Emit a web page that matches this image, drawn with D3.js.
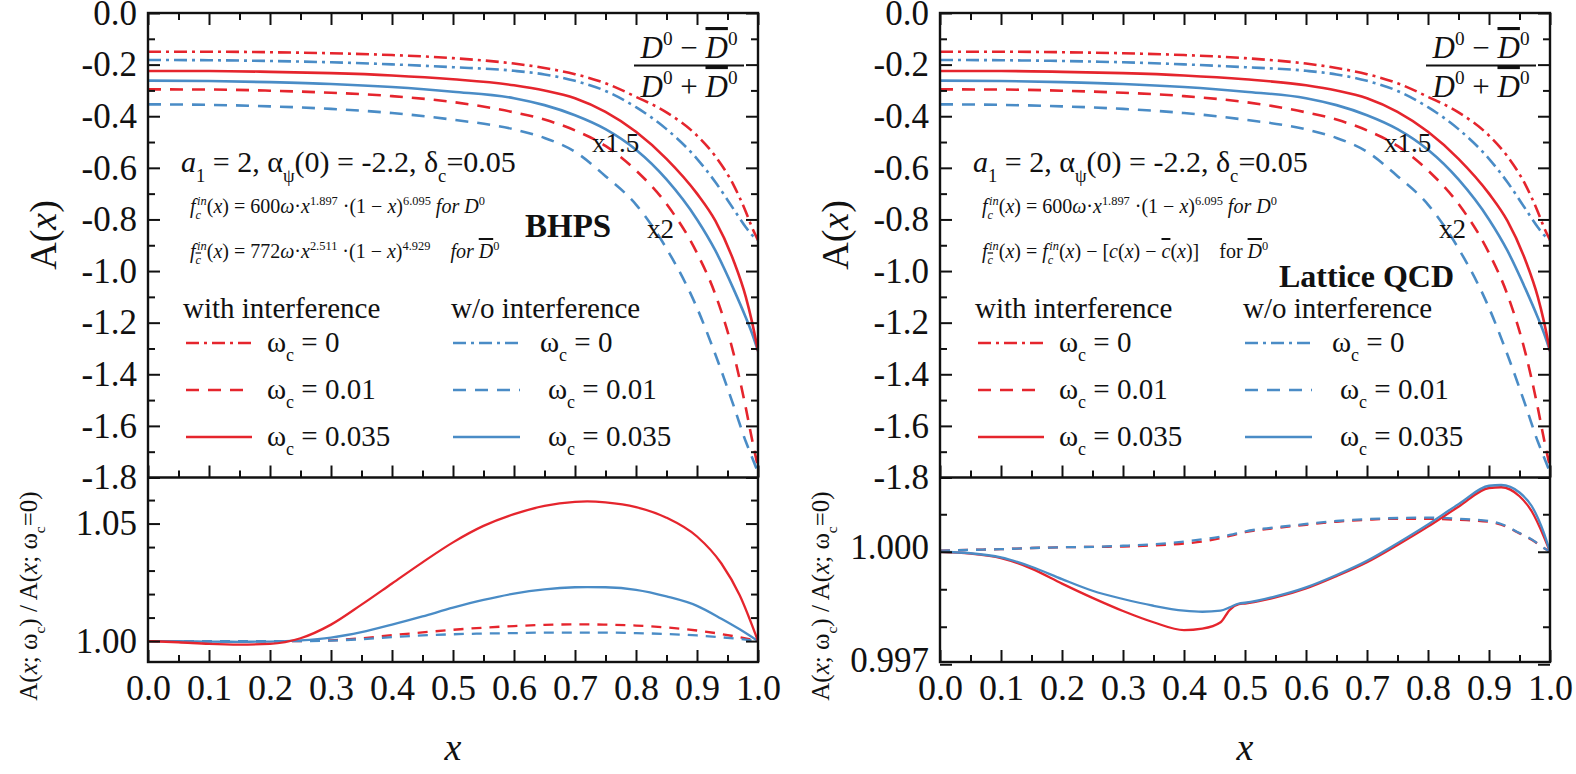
<!DOCTYPE html>
<html><head><meta charset="utf-8">
<script src="https://cdn.jsdelivr.net/npm/d3@7"></script>
<style>
body{margin:0;background:#fff}
svg{display:block}
text{font-family:"Liberation Serif","Times New Roman",serif;fill:#111;white-space:pre}
</style></head>
<body><svg id="c" width="1576" height="774"></svg>
<script>
// ---------- data ----------
const xGrid = [0,0.1,0.2,0.3,0.4,0.5,0.6,0.65,0.7,0.75,0.8,0.85,0.9,0.93,0.96,0.98,0.99,1.0];
const redOmega0   = [-0.150,-0.150,-0.152,-0.156,-0.163,-0.175,-0.196,-0.213,-0.237,-0.272,-0.325,-0.385,-0.475,-0.555,-0.667,-0.770,-0.830,-0.880];
const blueOmega0  = [-0.182,-0.183,-0.186,-0.191,-0.199,-0.210,-0.224,-0.238,-0.263,-0.302,-0.365,-0.450,-0.565,-0.655,-0.760,-0.830,-0.860,-0.880];
const redOmega035 = [-0.225,-0.225,-0.228,-0.233,-0.242,-0.257,-0.280,-0.300,-0.330,-0.383,-0.460,-0.565,-0.700,-0.805,-0.960,-1.100,-1.195,-1.310];
const blueOmega035= [-0.262,-0.2635,-0.268,-0.275,-0.287,-0.305,-0.330,-0.357,-0.396,-0.450,-0.530,-0.645,-0.800,-0.920,-1.070,-1.180,-1.240,-1.310];
const redOmega001 = [-0.296,-0.2965,-0.301,-0.309,-0.322,-0.345,-0.385,-0.413,-0.455,-0.515,-0.610,-0.740,-0.930,-1.090,-1.320,-1.530,-1.650,-1.760];
const blueOmega001= [-0.354,-0.356,-0.3618,-0.3716,-0.3877,-0.4135,-0.4508,-0.4841,-0.5378,-0.6323,-0.7425,-0.9127,-1.1427,-1.3224,-1.5215,-1.6608,-1.7203,-1.780];

// BHPS ratio panel
const bhpsX = [0,0.05,0.1,0.15,0.2,0.25,0.3,0.35,0.4,0.45,0.5,0.55,0.6,0.65,0.7,0.72,0.75,0.8,0.85,0.9,0.94,0.97,1.0];
const bhpsRed035  = [1.0,0.9995,0.9988,0.9985,0.9988,1.0012,1.007,1.0155,1.0245,1.0335,1.042,1.049,1.054,1.0575,1.0592,1.0594,1.059,1.057,1.0525,1.0445,1.033,1.0195,1.0];
const bhpsBlue035 = [1.0,1.0,0.9998,0.9997,0.9998,1.0003,1.0015,1.0038,1.007,1.0105,1.0142,1.0175,1.0202,1.022,1.0229,1.023,1.0229,1.0218,1.019,1.015,1.0095,1.005,1.0];
const bhpsRed001  = [1.0,1.0,0.9999,0.9999,0.9999,1.0,1.0003,1.0012,1.0025,1.0037,1.0048,1.0057,1.0064,1.0069,1.0071,1.0071,1.007,1.0066,1.0058,1.0045,1.003,1.0016,1.0];
const bhpsBlue001 = [1.0,1.0,1.0,1.0,1.0,1.0,1.0002,1.0008,1.0017,1.0024,1.0029,1.0032,1.0034,1.0036,1.0036,1.0036,1.0036,1.0034,1.003,1.0024,1.0016,1.0009,1.0];

// Lattice QCD ratio panel
const latX = [0,0.05,0.1,0.15,0.2,0.25,0.3,0.35,0.4,0.43,0.46,0.475,0.49,0.5,0.55,0.6,0.65,0.7,0.75,0.8,0.85,0.9,0.92,0.95,0.97,0.99,1.0];
const latRed035  = [1.0,0.99995,0.99983,0.99955,0.99915,0.99877,0.99842,0.99812,0.99791,0.99795,0.99812,0.99845,0.9986,0.99862,0.99878,0.99902,0.99935,0.99972,1.00018,1.00067,1.0012,1.0017,1.00172,1.00148,1.00108,1.0004,1.0];
const latBlue035 = [1.0,0.99996,0.99985,0.9996,0.99927,0.99896,0.99874,0.99856,0.99843,0.9984,0.99843,0.99852,0.99862,0.99864,0.99881,0.99905,0.99938,0.99976,1.00023,1.00073,1.00127,1.00176,1.00178,1.00158,1.00122,1.0005,1.0];
const latRed001  = [1.00003,1.00005,1.00007,1.0001,1.00012,1.00013,1.00014,1.00017,1.00022,1.00027,1.00036,1.00042,1.00048,1.00052,1.00063,1.00072,1.0008,1.00085,1.00088,1.00088,1.00085,1.0008,1.00072,1.00049,1.00032,1.0001,1.0];
const latBlue001 = [1.00003,1.00005,1.00007,1.0001,1.00012,1.00013,1.00016,1.0002,1.00027,1.00033,1.0004,1.00045,1.0005,1.00054,1.00065,1.00074,1.00082,1.00087,1.0009,1.00091,1.00088,1.00082,1.00074,1.0005,1.00033,1.0001,1.0];

const xMajor = [0,0.1,0.2,0.3,0.4,0.5,0.6,0.7,0.8,0.9,1.0];
const xMinor = [0.05,0.15,0.25,0.35,0.45,0.55,0.65,0.75,0.85,0.95];
const xTickLabels = ["0.0","0.1","0.2","0.3","0.4","0.5","0.6","0.7","0.8","0.9","1.0"];
const topMajor = [0,-0.2,-0.4,-0.6,-0.8,-1.0,-1.2,-1.4,-1.6,-1.8];
const topMinor = [-0.1,-0.3,-0.5,-0.7,-0.9,-1.1,-1.3,-1.5,-1.7];
const topTickLabels = ["0.0","-0.2","-0.4","-0.6","-0.8","-1.0","-1.2","-1.4","-1.6","-1.8"];
const bhpsMajor = [1.00,1.05];
const bhpsMinor = [1.01,1.02,1.03,1.04,1.06];
const bhpsTickLabels = ["1.00","1.05"];
const latMajor = [0.997,1.000];
const latMinor = [0.998,0.999,1.001];
const latTickLabels = ["0.997","1.000"];

// ---------- layout ----------
const RED = "#e5252d", BLUE = "#4a8cc6";
const TOP = 13, MID = 477.5, BOT = 662, PW = 610;
const svg = d3.select("#c");
const DASHDOT = "13,5,3,5", DASH = "13,9";

function rich(g, x, y, segs, size, anchor) {
  const t = g.append("text").attr("x", x).attr("y", y).attr("font-size", size)
    .attr("text-anchor", anchor || "start");
  let cur = 0;
  segs.forEach(s => {
    const sh = s.sub ? size * 0.32 : (s.sup ? -size * 0.42 : 0);
    const ts = t.append("tspan").text(s.t).attr("dy", sh - cur);
    cur = sh;
    if (s.sub || s.sup) ts.attr("font-size", size * (s.sc || 0.62));
    if (s.dx) ts.attr("dx", s.dx);
    if (s.i) ts.attr("font-style", "italic");
    if (s.b) ts.attr("font-weight", "bold");
    if (s.o) ts.attr("text-decoration", "overline");
  });
  return t;
}

function panel(ox, id, lowX, lowSeries, lowDomain, lowMajor, lowMinor, lowLabels, texts) {
  const g = svg.append("g");
  const x = d3.scaleLinear().domain([0, 1]).range([ox, ox + PW]);
  const yT = d3.scaleLinear().domain([-1.8, 0]).range([MID, TOP]);
  const yL = d3.scaleLinear().domain(lowDomain).range([BOT, MID]);

  const defs = g.append("defs");
  defs.append("clipPath").attr("id", "ct" + id).append("rect")
    .attr("x", ox).attr("y", TOP).attr("width", PW).attr("height", MID - TOP);
  defs.append("clipPath").attr("id", "cl" + id).append("rect")
    .attr("x", ox).attr("y", MID).attr("width", PW).attr("height", BOT - MID);

  const topSeries = [
    {v: redOmega001, c: RED, d: DASH}, {v: blueOmega001, c: BLUE, d: DASH},
    {v: redOmega0, c: RED, d: DASHDOT}, {v: blueOmega0, c: BLUE, d: DASHDOT},
    {v: blueOmega035, c: BLUE, d: null}, {v: redOmega035, c: RED, d: null}
  ];
  const lt = d3.line().x(d => x(d[0])).y(d => yT(d[1])).curve(d3.curveMonotoneX);
  const gt = g.append("g").attr("clip-path", `url(#ct${id})`);
  topSeries.forEach(s => {
    gt.append("path").attr("d", lt(xGrid.map((xx, i) => [xx, s.v[i]])))
      .attr("fill", "none").attr("stroke", s.c).attr("stroke-width", 2.6)
      .attr("stroke-dasharray", s.d);
  });

  const ll = d3.line().x(d => x(d[0])).y(d => yL(d[1])).curve(d3.curveMonotoneX);
  const gl = g.append("g").attr("clip-path", `url(#cl${id})`);
  lowSeries.forEach(s => {
    gl.append("path").attr("d", ll(lowX.map((xx, i) => [xx, s.v[i]])))
      .attr("fill", "none").attr("stroke", s.c).attr("stroke-width", 2.3)
      .attr("stroke-dasharray", s.d);
  });

  const ax = (gen, tr, vals, size, fmt) => {
    const a = g.append("g").attr("transform", tr)
      .call(gen.tickValues(vals).tickSize(size).tickFormat(fmt || ""));
    a.select(".domain").remove();
    a.selectAll("line").attr("stroke", "#111").attr("stroke-width", 2);
    return a;
  };
  ax(d3.axisTop(x), `translate(0,${TOP})`, xMajor, -12);
  ax(d3.axisTop(x), `translate(0,${TOP})`, xMinor, -7);
  ax(d3.axisBottom(x), `translate(0,${MID})`, xMajor, -12);
  ax(d3.axisBottom(x), `translate(0,${MID})`, xMinor, -7);
  const xb = ax(d3.axisBottom(x).tickPadding(12), `translate(0,${BOT})`, xMajor, -12, (d, i) => xTickLabels[i]);
  ax(d3.axisBottom(x), `translate(0,${BOT})`, xMinor, -7);
  xb.selectAll("text").attr("font-size", 36).attr("fill", "#111");

  const yl1 = ax(d3.axisLeft(yT).tickPadding(11), `translate(${ox},0)`, topMajor, -12, (d, i) => topTickLabels[i]);
  ax(d3.axisLeft(yT), `translate(${ox},0)`, topMinor, -7);
  ax(d3.axisRight(yT), `translate(${ox + PW},0)`, topMajor, -12);
  ax(d3.axisRight(yT), `translate(${ox + PW},0)`, topMinor, -7);
  const yl2 = ax(d3.axisLeft(yL).tickPadding(11), `translate(${ox},0)`, lowMajor, -12, (d, i) => lowLabels[i]);
  ax(d3.axisLeft(yL), `translate(${ox},0)`, lowMinor, -7);
  ax(d3.axisRight(yL), `translate(${ox + PW},0)`, lowMajor, -12);
  ax(d3.axisRight(yL), `translate(${ox + PW},0)`, lowMinor, -7);
  [yl1, yl2].forEach(a => a.selectAll("text").attr("font-size", 35).attr("fill", "#111"));
  yl2.selectAll("text").attr("dy", texts.lowDy);

  g.append("rect").attr("x", ox).attr("y", TOP).attr("width", PW).attr("height", BOT - TOP)
    .attr("fill", "none").attr("stroke", "#111").attr("stroke-width", 2.4);
  g.append("line").attr("x1", ox).attr("x2", ox + PW).attr("y1", MID).attr("y2", MID)
    .attr("stroke", "#111").attr("stroke-width", 2.4);

  rich(g, 0, 0, [{t: "A("}, {t: "x", i: 1}, {t: ")"}], 38, "middle")
    .attr("transform", `translate(${ox - 92},235) rotate(-90)`);
  rich(g, 0, 0, [{t: "A("}, {t: "x", i: 1}, {t: "; ω"}, {t: "c", sub: 1}, {t: ") / A("}, {t: "x", i: 1}, {t: "; ω"}, {t: "c", sub: 1}, {t: "=0)"}], 25, "middle")
    .attr("transform", `translate(${ox - 111},596) rotate(-90)`);
  rich(g, ox + 305, 760, [{t: "x", i: 1}], 38, "middle");

  rich(g, ox + 541, 58, [{t: "D", i: 1}, {t: "0", sup: 1}, {t: " − "}, {t: "D", i: 1, o: 1}, {t: "0", sup: 1}], 31, "middle");
  g.append("line").attr("x1", ox + 486).attr("x2", ox + 596).attr("y1", 65.5).attr("y2", 65.5)
    .attr("stroke", "#111").attr("stroke-width", 1.8);
  rich(g, ox + 541, 97, [{t: "D", i: 1}, {t: "0", sup: 1}, {t: " + "}, {t: "D", i: 1, o: 1}, {t: "0", sup: 1}], 31, "middle");

  rich(g, ox + 444, 152, [{t: "x1.5"}], 27);
  rich(g, ox + 499, 238, [{t: "x2"}], 27);
  rich(g, ox + 33, 172, [{t: "a", i: 1}, {t: "1", sub: 1}, {t: " = 2, α"}, {t: "ψ", sub: 1}, {t: "(0) = -2.2, δ"}, {t: "c", sub: 1}, {t: "=0.05"}], 30);
  const fc = [{t: "f", i: 1}, {t: "c", sub: 1, i: 1}, {t: "in", sup: 1, i: 1, dx: -4}];
  rich(g, ox + 42, 213, fc.concat([{t: "("}, {t: "x", i: 1}, {t: ") = 600"}, {t: "ω", i: 1}, {t: "·"}, {t: "x", i: 1}, {t: "1.897", sup: 1}, {t: " ·(1 − "}, {t: "x", i: 1}, {t: ")"}, {t: "6.095", sup: 1}, {t: " for D", i: 1}, {t: "0", sup: 1}]), 20);
  rich(g, ox + 42, 258, texts.f2, 20);
  rich(g, texts.labX, texts.labY, [{t: texts.label, b: 1}], texts.labSize);

  rich(g, ox + 35, 318, [{t: "with interference"}], 29);
  rich(g, ox + 303, 318, [{t: "w/o interference"}], 29);
  const rows = [{d: DASHDOT, t: "0", y: 343, bx: 392}, {d: DASH, t: "0.01", y: 390, bx: 400}, {d: null, t: "0.035", y: 437, bx: 400}];
  rows.forEach(r => {
    g.append("line").attr("x1", ox + 38).attr("x2", ox + 104).attr("y1", r.y).attr("y2", r.y)
      .attr("stroke", RED).attr("stroke-width", 2.6).attr("stroke-dasharray", r.d);
    g.append("line").attr("x1", ox + 305).attr("x2", ox + 372).attr("y1", r.y).attr("y2", r.y)
      .attr("stroke", BLUE).attr("stroke-width", 2.6).attr("stroke-dasharray", r.d);
    rich(g, ox + 119, r.y + 9, [{t: "ω"}, {t: "c", sub: 1}, {t: " = " + r.t}], 29);
    rich(g, ox + r.bx, r.y + 9, [{t: "ω"}, {t: "c", sub: 1}, {t: " = " + r.t}], 29);
  });
}

const fcBar = [{t: "f", i: 1}, {t: "c", sub: 1, i: 1, o: 1}, {t: "in", sup: 1, i: 1, dx: -4}];
panel(148, "L", bhpsX, [
  {v: bhpsRed001, c: RED, d: "10,8"}, {v: bhpsBlue001, c: BLUE, d: "10,8"},
  {v: bhpsBlue035, c: BLUE, d: null}, {v: bhpsRed035, c: RED, d: null}
], [0.9911, 1.0696], bhpsMajor, bhpsMinor, bhpsTickLabels, {
  f2: fcBar.concat([{t: "("}, {t: "x", i: 1}, {t: ") = 772"}, {t: "ω", i: 1}, {t: "·"}, {t: "x", i: 1}, {t: "2.511", sup: 1}, {t: " ·(1 − "}, {t: "x", i: 1}, {t: ")"}, {t: "4.929", sup: 1}, {t: "    for ", i: 1}, {t: "D", i: 1, o: 1}, {t: "0", sup: 1}]),
  label: "BHPS", labX: 148 + 377, labY: 237, labSize: 33, lowDy: "0.32em"
});

panel(940, "R", latX, [
  {v: latRed001, c: RED, d: "10,8"}, {v: latBlue001, c: BLUE, d: "10,8"},
  {v: latRed035, c: RED, d: null}, {v: latBlue035, c: BLUE, d: null}
], [0.99706, 1.00198], latMajor, latMinor, latTickLabels, {
  f2: fcBar.concat([{t: "("}, {t: "x", i: 1}, {t: ") = "}, {t: "f", i: 1}, {t: "c", sub: 1, i: 1}, {t: "in", sup: 1, i: 1, dx: -4}, {t: "("}, {t: "x", i: 1}, {t: ") − ["}, {t: "c", i: 1}, {t: "("}, {t: "x", i: 1}, {t: ") − "}, {t: "c", i: 1, o: 1}, {t: "("}, {t: "x", i: 1}, {t: ")]    for "}, {t: "D", i: 1, o: 1}, {t: "0", sup: 1}]),
  label: "Lattice QCD", labX: 940 + 339, labY: 287, labSize: 32, lowDy: "0.2em"
});
</script></body></html>
